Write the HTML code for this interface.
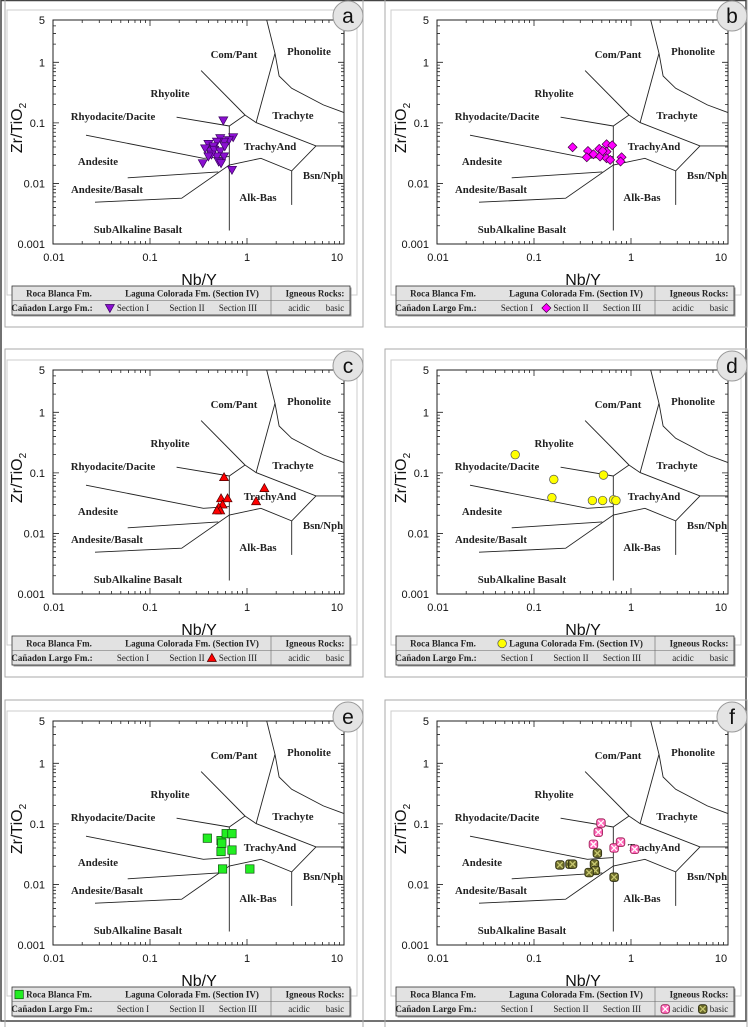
<!DOCTYPE html>
<html><head><meta charset="utf-8"><style>
html,body{margin:0;padding:0;background:#fff;}
svg{display:block;}
.rl{font-family:"Liberation Serif",serif;font-weight:bold;font-size:10.8px;fill:#222;}
.tk{font-family:"Liberation Sans",sans-serif;font-size:11px;fill:#111;}
.ax{font-family:"Liberation Sans",sans-serif;font-size:16px;fill:#111;}
.lg{font-family:"Liberation Serif",serif;font-weight:bold;font-size:9px;fill:#222;}
.lgn{font-family:"Liberation Serif",serif;font-size:9px;fill:#222;}
</style></head><body>
<svg id="fig" width="748" height="1027" viewBox="0 0 748 1027" xmlns="http://www.w3.org/2000/svg"></svg>
<script>
const xTicks = [0.01, 0.1, 1, 10];
const xTickLabels = ["0.01", "0.1", "1", "10"];
const yTicks = [0.001, 0.01, 0.1, 1, 5];
const yTickLabels = ["0.001", "0.01", "0.1", "1", "5"];
const aNb = [0.57,0.72,0.65,0.58,0.53,0.49,0.40,0.45,0.42,0.46,0.53,0.58,0.49,0.43,0.51,0.54,0.35,0.70,0.37,0.40,0.59];
const aZr = [0.11,0.058,0.052,0.049,0.056,0.049,0.045,0.041,0.034,0.036,0.034,0.028,0.028,0.030,0.023,0.0216,0.0216,0.0168,0.038,0.028,0.041];
const bNb = [0.25,0.36,0.41,0.35,0.47,0.56,0.64,0.56,0.48,0.56,0.61,0.80,0.78,0.51];
const bZr = [0.0396,0.0344,0.0304,0.0271,0.0372,0.0444,0.0428,0.0336,0.0278,0.0261,0.0245,0.0271,0.0230,0.0344];
const cNb = [0.58,0.54,0.63,0.56,0.51,0.53,0.49,1.51,1.24];
const cZr = [0.085,0.038,0.038,0.030,0.027,0.024,0.024,0.056,0.034];
const dNb = [0.064,0.16,0.153,0.40,0.51,0.66,0.70,0.52];
const dZr = [0.20,0.078,0.039,0.035,0.035,0.036,0.035,0.092];
const eNb = [0.39,0.54,0.61,0.70,0.54,0.70,0.56,1.07,0.55];
const eZr = [0.058,0.053,0.069,0.069,0.035,0.037,0.018,0.018,0.048];
const fAcidNb = [0.49,0.46,0.41,0.67,0.78,1.09];
const fAcidZr = [0.103,0.073,0.046,0.040,0.050,0.038];
const fBasicNb = [0.185,0.235,0.25,0.45,0.42,0.43,0.37,0.67];
const fBasicZr = [0.021,0.0216,0.0216,0.0328,0.0216,0.017,0.0157,0.0132];

const boundaries = [
 [[1.596,5],[1.945,1.41],[2.14,0.595],[2.89,0.372],[6.12,0.198],[10,0.148]],
 [[1.24,0.101],[1.945,1.41]],
 [[0.336,0.73],[0.953,0.135]],
 [[0.657,0.089],[0.953,0.135],[1.24,0.101],[5.14,0.0417],[10,0.0417]],
 [[0.188,0.124],[0.657,0.089]],
 [[0.657,0.089],[0.657,0.00167]],
 [[0.0219,0.0625],[0.355,0.026],[0.657,0.0278]],
 [[0.0589,0.0124],[0.506,0.0155]],
 [[0.0271,0.0049],[0.212,0.0057],[0.657,0.0202],[1.39,0.026],[2.89,0.0161],[5.14,0.0417]],
 [[2.89,0.0161],[2.89,0.00443]]
];
const regionLabels = [["Com/Pant",181,34],["Phonolite",256,31],["Rhyolite",117,73],["Rhyodacite/Dacite",60,96],["Trachyte",240,95],["TrachyAnd",217,126],["Andesite",45,141],["Bsn/Nph",270,155],["Andesite/Basalt",54,169],["Alk-Bas",205,177],["SubAlkaline Basalt",85,209]];

const NS = "http://www.w3.org/2000/svg";
const svg = document.getElementById("fig");
const PW = 291, PH = 224, DEC = 97, YD = PH/Math.log10(5000);
function mk(tag, at, parent){const e=document.createElementNS(NS,tag);for(const k in at)e.setAttribute(k,at[k]);(parent||svg).appendChild(e);return e;}
function nm(e,n){
 
 
 return e;}
function sx(o,v){return o.x+(Math.log10(v)+2)*DEC;}
function sy(o,v){return o.y+(Math.log10(5)-Math.log10(v))*YD;}

function marker(g,type,cx,cy,name){
 let e;
 if(type==="tri"){e=mk("path",{d:`M${cx-4.5},${cy-3.5}L${cx+4.5},${cy-3.5}L${cx},${cy+4.5}Z`,fill:"#8a10d0",stroke:"#3a0060","stroke-width":0.7},g);}
 else if(type==="dia"){e=mk("path",{d:`M${cx},${cy-4.5}L${cx+4.5},${cy}L${cx},${cy+4.5}L${cx-4.5},${cy}Z`,fill:"#ff00ff",stroke:"#400040","stroke-width":0.7},g);}
 else if(type==="up"){e=mk("path",{d:`M${cx-4.5},${cy+3.5}L${cx+4.5},${cy+3.5}L${cx},${cy-4.5}Z`,fill:"#ff0000",stroke:"#500000","stroke-width":0.7},g);}
 else if(type==="circ"){e=mk("circle",{cx:cx,cy:cy,r:4.3,fill:"#ffff00",stroke:"#555","stroke-width":0.7},g);}
 else if(type==="sq"){e=mk("rect",{x:cx-4.2,y:cy-4.2,width:8.4,height:8.4,fill:"#22ee22",stroke:"#115511","stroke-width":0.7},g);}
 else {const fill=type==="acid"?"#ff66b8":"#6b6b2a";const st=type==="acid"?"#992255":"#2a2a10";
  e=mk("rect",{x:cx-4.3,y:cy-4.3,width:8.6,height:8.6,rx:2.5,fill:fill,stroke:st,"stroke-width":0.8},g);
  const c=mk("path",{d:`M${cx-2.8},${cy-2.8}L${cx+2.8},${cy+2.8}M${cx+2.8},${cy-2.8}L${cx-2.8},${cy+2.8}`,stroke:type==="acid"?"#fff":"#c8c870","stroke-width":1.3},g);
  nm(c,name+"-cross");}
 nm(e,name);
}

const panels=[
 {id:"a",x:53,y:20,series:[{nb:aNb,zr:aZr,t:"tri"}],lg:"s1",lt:"tri"},
 {id:"b",x:437,y:20,series:[{nb:bNb,zr:bZr,t:"dia"}],lg:"s2",lt:"dia"},
 {id:"c",x:53,y:370,series:[{nb:cNb,zr:cZr,t:"up"}],lg:"s3",lt:"up"},
 {id:"d",x:437,y:370,series:[{nb:dNb,zr:dZr,t:"circ"}],lg:"lag",lt:"circ"},
 {id:"e",x:53,y:721,series:[{nb:eNb,zr:eZr,t:"sq"}],lg:"roca",lt:"sq"},
 {id:"f",x:437,y:721,series:[{nb:fAcidNb,zr:fAcidZr,t:"acid"},{nb:fBasicNb,zr:fBasicZr,t:"basic"}],lg:"ign",lt:null}
];

nm(mk("rect",{x:1,y:0.5,width:745,height:1020.5,fill:"none",stroke:"#444","stroke-width":1.5}),"figure-frame");

panels.forEach(p=>{
 const o={x:p.x,y:p.y};
 const g=mk("g",{});
 nm(g,"panel-"+p.id);
 const left = p.x<200 ? o.x-48 : o.x-52;
 nm(mk("rect",{x:left,y:o.y-21,width:o.x+310-left,height:328,fill:"none",stroke:"#aaa","stroke-width":1},g),"panel-outer-box");
 nm(mk("rect",{x:o.x-46,y:o.y-10,width:350,height:285,fill:"none",stroke:"#ccc","stroke-width":1},g),"panel-inner-box");
 boundaries.forEach((ln,i)=>{
  const d=ln.map((pt,j)=>(j?"L":"M")+sx(o,pt[0]).toFixed(1)+","+sy(o,pt[1]).toFixed(1)).join("");
  nm(mk("path",{d:d,fill:"none",stroke:"#222","stroke-width":0.9},g),"field-boundary");
 });
 regionLabels.forEach(r=>{
  const t=mk("text",{x:o.x+r[1],y:o.y+r[2]+4,"text-anchor":"middle",class:"rl"},g);
  t.textContent=r[0];
  nm(t,"field-label");
 });
 nm(mk("rect",{x:o.x,y:o.y,width:PW,height:PH,fill:"none",stroke:"#222","stroke-width":1},g),"plot-frame");
 let tks="";
 for(let d=0.01;d<=10.0001;d*=10){for(let k=1;k<=9;k++){const v=d*k;if(v>10.001)break;const X=sx(o,v);const L=k===1?6:3;tks+=`M${X},${o.y+PH}v${-L}M${X},${o.y}v${L}`;}}
 for(let d=0.001;d<=1.0001;d*=10){for(let k=1;k<=9;k++){const v=d*k;if(v>5.001)break;const Y=sy(o,v);const L=k===1?6:3;tks+=`M${o.x},${Y}h${L}M${o.x+PW},${Y}h${-L}`;}}
 nm(mk("path",{d:tks,stroke:"#222","stroke-width":0.8,fill:"none"},g),"axis-ticks");
 xTicks.forEach((v,i)=>{
  let X=sx(o,v); if(i===xTicks.length-1)X-=7; if(i===0)X+=1;
  const t=mk("text",{x:X,y:o.y+PH+17,"text-anchor":"middle",class:"tk"},g);t.textContent=xTickLabels[i];nm(t,"x-tick-label");
 });
 yTicks.forEach((v,i)=>{
  const t=mk("text",{x:o.x-8,y:sy(o,v)+4,"text-anchor":"end",class:"tk"},g);t.textContent=yTickLabels[i];nm(t,"y-tick-label");
 });
 const xt=mk("text",{x:o.x+146,y:o.y+PH+41,"text-anchor":"middle",class:"ax"},g);xt.textContent="Nb/Y";nm(xt,"x-axis-title");
 const yt=mk("text",{transform:`translate(${o.x-31},${o.y+108}) rotate(-90)`,"text-anchor":"middle",class:"ax"},g);
 nm(yt,"y-axis-title");
 const ts1=mk("tspan",{},yt);ts1.textContent="Zr/TiO";
 const ts2=mk("tspan",{"font-size":"10","dy":"4"},yt);ts2.textContent="2";
 p.series.forEach(s=>{
  s.nb.forEach((v,i)=>{marker(g,s.t,sx(o,v),sy(o,s.zr[i]),"point-"+s.t);});
 });
 const cy=Math.max(15,o.y-4);
 nm(mk("circle",{cx:o.x+295,cy:cy,r:15,fill:"#e4e4e4",stroke:"#999","stroke-width":1},g),"panel-badge");
 const bt=mk("text",{x:o.x+295,y:cy+7,"text-anchor":"middle","font-family":"Liberation Sans, sans-serif","font-size":"21",fill:"#111"},g);
 bt.textContent=p.id;nm(bt,"panel-letter");
 const lx=o.x-41, ly=o.y+266;
 nm(mk("rect",{x:lx+1.5,y:ly+1.5,width:338,height:29,fill:"#999"},g),"legend-shadow");
 nm(mk("rect",{x:lx,y:ly,width:338,height:29,fill:"#e2e2e2",stroke:"#333","stroke-width":0.8},g),"legend");
 nm(mk("path",{d:`M${o.x+218},${ly}v29M${lx},${ly+14.5}h338`,stroke:"#666","stroke-width":0.6},g),"legend-divider");
 const r1=ly+10.5, r2=ly+25;
 const items=[["roca","Roca Blanca Fm.",o.x+6,r1,"lg"],["lag","Laguna Colorada Fm. (Section IV)",o.x+139,r1,"lg"],["ign-h","Igneous Rocks:",o.x+262,r1,"lg"],
  ["cl","Cañadon Largo Fm.:",o.x-1,r2,"lg"],["s1","Section I",o.x+80,r2,"lgn"],["s2","Section II",o.x+134,r2,"lgn"],["s3","Section III",o.x+185,r2,"lgn"],
  ["acid","acidic",o.x+246,r2,"lgn"],["basic","basic",o.x+282,r2,"lgn"]];
 items.forEach(it=>{
  const t=mk("text",{x:it[2],y:it[3],"text-anchor":"middle",class:it[4]},g);t.textContent=it[1];
  nm(t,"legend-"+it[0]);
  if(p.lg===it[0]&&p.lt){const w=t.getComputedTextLength();marker(g,p.lt,it[2]-w/2-7,it[3]-3,"legend-marker");}
  if(p.lg==="ign"&&(it[0]==="acid"||it[0]==="basic")){const w=t.getComputedTextLength();marker(g,it[0],it[2]-w/2-7,it[3]-3,"legend-marker-"+it[0]);}
 });
});
</script>
</body></html>
